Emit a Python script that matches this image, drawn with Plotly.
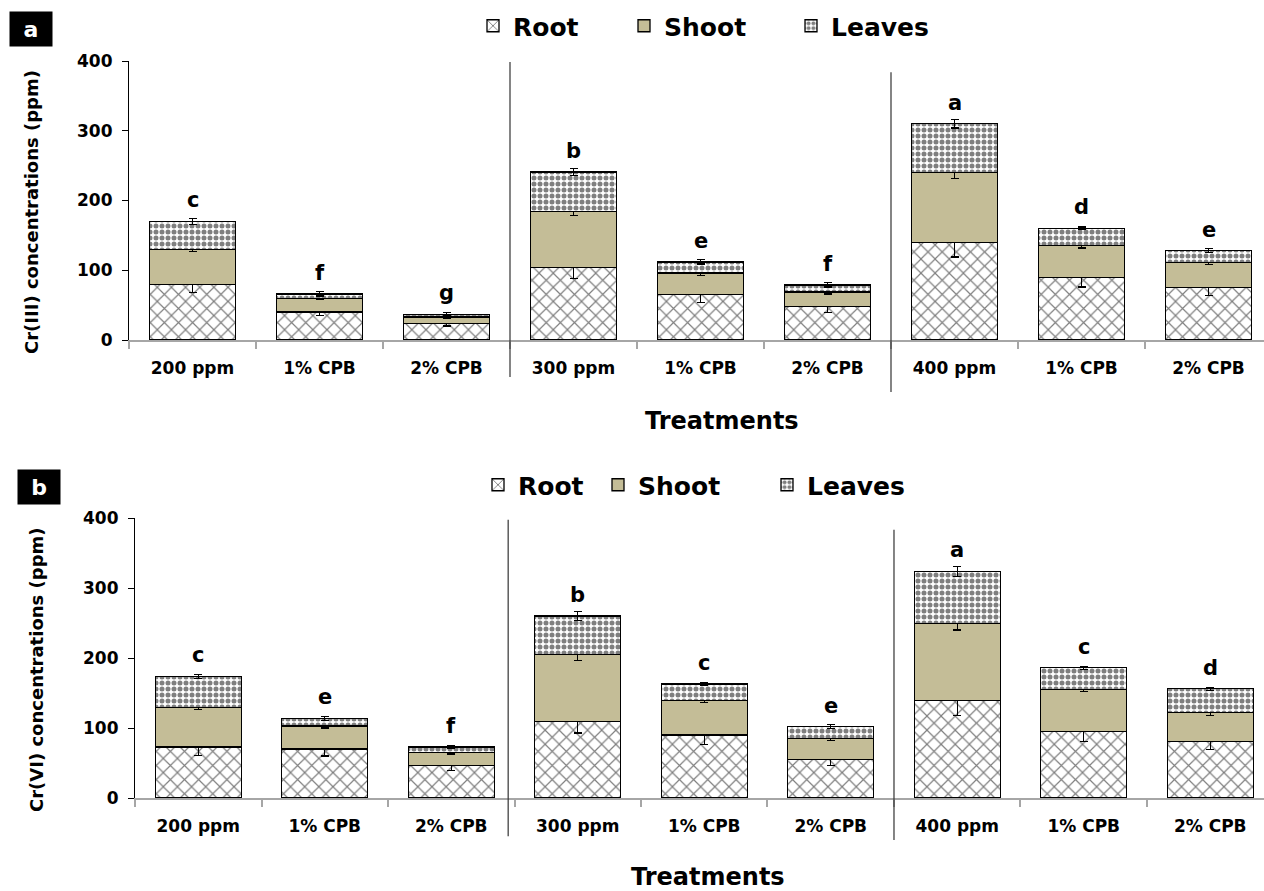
import plotly.graph_objects as go

# ---------------- data ----------------
categories = ["200 ppm", "1% CPB", "2% CPB", "300 ppm", "1% CPB", "2% CPB",
              "400 ppm", "1% CPB", "2% CPB"]
x_pos = list(range(len(categories)))

# Panel a : Cr(III)
a_root = [80, 40, 24, 104, 65, 48, 140, 90, 75]
a_shoot = [50, 20, 9, 80, 31, 21, 100, 45, 36]
a_leaves = [40, 6, 4, 57, 16, 10, 70, 25, 17]
a_root_err = [12, 5, 4, 16, 11, 8, 21, 14, 11]
a_shoot_err = [3, 2, 2, 6, 3, 3, 8, 3, 3]
a_leaves_err = [4, 3, 2, 5, 3, 3, 6, 2, 3]
a_letters = ["c", "f", "g", "b", "e", "f", "a", "d", "e"]

# Panel b : Cr(VI)
b_root = [73, 70, 46, 109, 90, 55, 139, 95, 81]
b_shoot = [56, 33, 19, 96, 49, 30, 110, 60, 41]
b_leaves = [45, 11, 8, 55, 24, 17, 75, 31, 34]
b_root_err = [12, 10, 7, 16, 14, 9, 21, 14, 12]
b_shoot_err = [3, 3, 2, 8, 3, 3, 9, 3, 4]
b_leaves_err = [3, 3, 2, 6, 2, 3, 7, 2, 2]
b_letters = ["c", "e", "f", "b", "c", "e", "a", "c", "d"]

series_names = ["Root", "Shoot", "Leaves"]

# ---------------- styling ----------------
W, H = 1264, 891
FONT = "DejaVu Sans"
SHOOT_COLOR = "#C4BD97"
markers = {
    "Root": dict(color="white",
                 pattern=dict(shape="x", fgcolor="black", bgcolor="white", size=10, solidity=0.22),
                 line=dict(color="black", width=1.3)),
    "Shoot": dict(color=SHOOT_COLOR, line=dict(color="black", width=1.3)),
    "Leaves": dict(color="white",
                   pattern=dict(shape=".", fgcolor="black", bgcolor="white", size=6, solidity=0.55),
                   line=dict(color="black", width=1.3)),
}


def px_x(v):
    return v / W


def px_y(v):
    return 1 - v / H


panels = [
    dict(xa="x", ya="y", data=[a_root, a_shoot, a_leaves],
         errs=[a_root_err, a_shoot_err, a_leaves_err], letters=a_letters,
         legends=["legend", "legend2", "legend3"],
         leg_x=[473, 624, 791], leg_y=26,
         xdom=[129, W], ydom=[61, 340], xmax=8.437,
         ytitle="Cr(III) concentrations (ppm)", ytitle_x=31, ytitle_y=212,
         xtitle_x=722, xtitle_y=421, tag="a", tag_x=31, tag_y=29,
         seps=[(2.5, 0.996, -0.133), (5.5, 0.96, -0.186)]),
    dict(xa="x2", ya="y2", data=[b_root, b_shoot, b_leaves],
         errs=[b_root_err, b_shoot_err, b_leaves_err], letters=b_letters,
         legends=["legend4", "legend5", "legend6"],
         leg_x=[478, 598, 767], leg_y=485,
         xdom=[135, W], ydom=[518, 798], xmax=8.425,
         ytitle="Cr(VI) concentrations (ppm)", ytitle_x=36, ytitle_y=670,
         xtitle_x=708, xtitle_y=877, tag="b", tag_x=39, tag_y=487,
         seps=[(2.45, 0.994, -0.137), (5.5, 0.958, -0.15)]),
]

fig = go.Figure()
annotations = []
shapes = []
layout = {}

for pi, p in enumerate(panels):
    for si, name in enumerate(series_names):
        fig.add_trace(go.Bar(
            x=x_pos, y=p["data"][si], name=name,
            xaxis=p["xa"], yaxis=p["ya"], width=0.68,
            marker=markers[name],
            error_y=dict(type="data", array=p["errs"][si], color="black",
                         thickness=1.2, width=4),
            legend=p["legends"][si], showlegend=True,
        ))
        layout[p["legends"][si]] = dict(
            x=px_x(p["leg_x"][si]), y=px_y(p["leg_y"]), xanchor="left", yanchor="middle",
            orientation="h", bgcolor="rgba(0,0,0,0)",
            font=dict(family=FONT, size=25, color="black", weight="bold"),
        )
    totals = [sum(v) for v in zip(*p["data"])]
    for i, (t, lt) in enumerate(zip(totals, p["letters"])):
        annotations.append(dict(
            x=x_pos[i], y=t, xref=p["xa"], yref=p["ya"], text=lt, showarrow=False,
            xanchor="center", yanchor="bottom", yshift=7,
            font=dict(family=FONT, size=21, color="black", weight="bold")))
    annotations.append(dict(
        x=px_x(p["ytitle_x"]), y=px_y(p["ytitle_y"]), xref="paper", yref="paper",
        text=p["ytitle"], textangle=-90, showarrow=False,
        xanchor="center", yanchor="middle",
        font=dict(family=FONT, size=18, color="black", weight="bold")))
    annotations.append(dict(
        x=px_x(p["xtitle_x"]), y=px_y(p["xtitle_y"]), xref="paper", yref="paper",
        text="Treatments", showarrow=False, xanchor="center", yanchor="middle",
        font=dict(family=FONT, size=24, color="black", weight="bold")))
    annotations.append(dict(
        x=px_x(p["tag_x"]), y=px_y(p["tag_y"]), xref="paper", yref="paper",
        text=p["tag"], showarrow=False, bgcolor="black", width=40, height=32,
        xanchor="center", yanchor="middle",
        font=dict(family=FONT, size=22, color="white", weight="bold")))
    for (sx, y0, y1) in p["seps"]:
        shapes.append(dict(type="line", xref=p["xa"], yref=p["ya"] + " domain",
                           x0=sx, x1=sx, y0=y0, y1=y1,
                           line=dict(color="#333333", width=1.2)))

    xk = "xaxis" if pi == 0 else "xaxis2"
    yk = "yaxis" if pi == 0 else "yaxis2"
    layout[xk] = dict(
        domain=[px_x(p["xdom"][0]), px_x(p["xdom"][1])], anchor=p["ya"],
        range=[-0.5, p["xmax"]], tickmode="array", tickvals=x_pos, ticktext=categories,
        ticks="", showline=True, linecolor="#A6A6A6", linewidth=2, showgrid=False,
        zeroline=False, ticklabelstandoff=12,
        tickfont=dict(family=FONT, size=17, color="black", weight="bold"),
        minor=dict(tickmode="array", tickvals=[v - 0.5 for v in x_pos],
                   ticks="outside", ticklen=7, tickcolor="#A6A6A6", tickwidth=1.5,
                   showgrid=False),
    )
    layout[yk] = dict(
        domain=[px_y(p["ydom"][1]), px_y(p["ydom"][0])], anchor=p["xa"],
        range=[0, 400], dtick=100, showline=True, linecolor="black", linewidth=1.2,
        ticks="outside", ticklen=6, tickcolor="black", showgrid=False, zeroline=False,
        ticklabelstandoff=6,
        tickfont=dict(family=FONT, size=17, color="black", weight="bold"),
    )

fig.update_layout(
    width=W, height=H, margin=dict(l=0, r=0, t=0, b=0, autoexpand=False),
    paper_bgcolor="white", plot_bgcolor="white",
    barmode="stack", annotations=annotations, shapes=shapes,
    **layout,
)

fig.write_html("out.html")
